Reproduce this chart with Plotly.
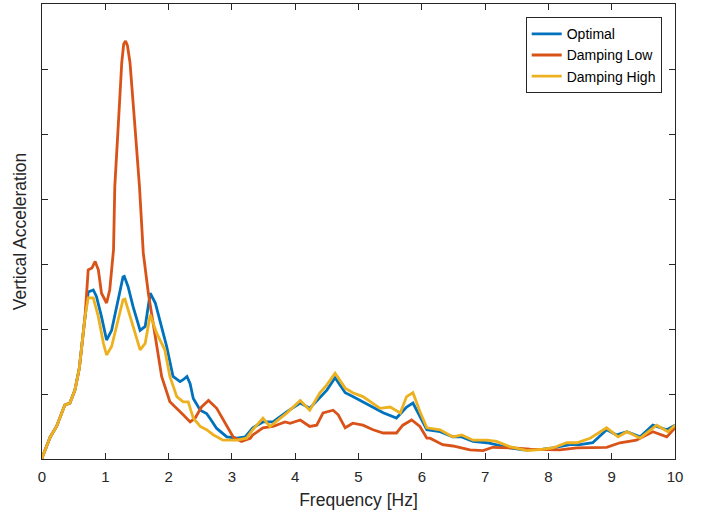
import plotly.graph_objects as go

# Shared low-frequency rise (all three series coincide here)
f_common = [0.00, 0.01, 0.13, 0.23, 0.36, 0.44, 0.52, 0.59, 0.68]
v_common = [0.00, 0.04, 0.34, 0.50, 0.83, 0.86, 1.06, 1.40, 2.19]

# Optimal
f_opt = f_common + [0.73, 0.81, 0.86, 0.94, 1.02, 1.10, 1.21, 1.28, 1.30, 1.36, 1.44, 1.55, 1.63, 1.71,
                    1.79, 1.86, 1.97, 2.07, 2.18, 2.23, 2.29, 2.34, 2.39, 2.50, 2.60, 2.65, 2.76, 2.92,
                    3.08, 3.21, 3.33, 3.49, 3.65, 3.87, 4.08, 4.23, 4.39, 4.50, 4.63, 4.79, 4.91, 5.07,
                    5.23, 5.39, 5.60, 5.76, 5.86, 5.97, 6.08, 6.29, 6.49, 6.63, 6.81, 7.03, 7.18, 7.39,
                    7.60, 7.91, 8.07, 8.34, 8.50, 8.70, 8.92, 9.08, 9.24, 9.45, 9.65, 9.87, 10.00]
v_opt = v_common + [2.57, 2.60, 2.50, 2.19, 1.83, 1.98, 2.50, 2.80, 2.81, 2.65, 2.34, 1.98, 2.04, 2.55,
                    2.40, 2.14, 1.73, 1.27, 1.19, 1.22, 1.27, 1.16, 0.93, 0.75, 0.70, 0.63, 0.47, 0.34,
                    0.32, 0.34, 0.48, 0.57, 0.57, 0.73, 0.86, 0.78, 0.94, 1.06, 1.25, 1.02, 0.96, 0.88,
                    0.80, 0.71, 0.63, 0.80, 0.86, 0.65, 0.45, 0.42, 0.34, 0.34, 0.27, 0.25, 0.22, 0.17,
                    0.14, 0.15, 0.17, 0.22, 0.22, 0.25, 0.45, 0.37, 0.42, 0.34, 0.52, 0.45, 0.52]

# Damping Low
f_low = f_common + [0.73, 0.79, 0.84, 0.89, 0.94, 1.02, 1.07, 1.13, 1.15, 1.21, 1.26, 1.29, 1.32, 1.35,
                    1.39, 1.46, 1.54, 1.60, 1.68, 1.79, 1.89, 2.02, 2.13, 2.23, 2.34, 2.42, 2.52, 2.63,
                    2.76, 2.89, 3.02, 3.15, 3.29, 3.33, 3.49, 3.65, 3.84, 3.92, 4.08, 4.23, 4.34, 4.44,
                    4.60, 4.68, 4.79, 4.91, 5.07, 5.23, 5.39, 5.60, 5.70, 5.84, 5.97, 6.08, 6.13, 6.33,
                    6.49, 6.76, 6.97, 7.12, 7.44, 7.71, 7.97, 8.18, 8.45, 8.70, 8.92, 9.13, 9.39, 9.65,
                    9.87, 10.00]
v_low = v_common + [2.91, 2.94, 3.04, 2.91, 2.55, 2.40, 2.60, 3.22, 4.19, 5.22, 6.10, 6.38, 6.43, 6.36,
                    6.10, 5.22, 4.19, 3.17, 2.55, 1.88, 1.27, 0.88, 0.78, 0.68, 0.57, 0.63, 0.80, 0.90,
                    0.78, 0.55, 0.34, 0.27, 0.32, 0.37, 0.48, 0.50, 0.57, 0.55, 0.60, 0.50, 0.52, 0.71,
                    0.75, 0.68, 0.48, 0.55, 0.52, 0.45, 0.40, 0.40, 0.52, 0.60, 0.50, 0.32, 0.32, 0.22,
                    0.20, 0.14, 0.13, 0.18, 0.17, 0.15, 0.14, 0.14, 0.17, 0.18, 0.18, 0.25, 0.29, 0.42,
                    0.34, 0.48]

# Damping High
f_high = f_common + [0.73, 0.81, 0.89, 0.97, 1.02, 1.10, 1.21, 1.28, 1.31, 1.39, 1.55, 1.63, 1.71, 1.81,
                     1.94, 2.02, 2.13, 2.23, 2.31, 2.39, 2.50, 2.60, 2.71, 2.86, 3.08, 3.23, 3.33, 3.49,
                     3.60, 3.87, 4.08, 4.23, 4.39, 4.50, 4.63, 4.79, 4.91, 5.07, 5.23, 5.34, 5.50, 5.66,
                     5.76, 5.86, 5.97, 6.08, 6.29, 6.49, 6.63, 6.81, 7.03, 7.18, 7.39, 7.66, 7.91, 8.07,
                     8.29, 8.45, 8.66, 8.92, 9.10, 9.24, 9.45, 9.71, 9.89, 10.00]
v_high = v_common + [2.48, 2.48, 2.19, 1.78, 1.60, 1.73, 2.19, 2.45, 2.46, 2.19, 1.68, 1.78, 2.22, 1.94,
                     1.68, 1.27, 0.96, 0.88, 0.88, 0.63, 0.50, 0.45, 0.37, 0.29, 0.29, 0.32, 0.45, 0.63,
                     0.50, 0.71, 0.90, 0.75, 1.02, 1.14, 1.32, 1.09, 1.02, 0.96, 0.86, 0.78, 0.80, 0.71,
                     0.96, 1.02, 0.73, 0.48, 0.45, 0.34, 0.37, 0.29, 0.29, 0.27, 0.19, 0.13, 0.15, 0.17,
                     0.25, 0.25, 0.32, 0.48, 0.34, 0.42, 0.32, 0.52, 0.42, 0.52]

names = ["Optimal", "Damping Low", "Damping High"]
colors = ["#0072BD", "#D95319", "#EDB120"]
x_ticks = [0, 1, 2, 3, 4, 5, 6, 7, 8, 9, 10]
x_tick_labels = ["0", "1", "2", "3", "4", "5", "6", "7", "8", "9", "10"]
y_ticks = [0, 1, 2, 3, 4, 5, 6, 7]

AX = "#262626"
FONT = "Liberation Sans, Arial, Helvetica, sans-serif"

fig = go.Figure()
for fx, vy, nm, c in zip([f_opt, f_low, f_high], [v_opt, v_low, v_high], names, colors):
    fig.add_trace(go.Scatter(x=fx, y=vy, mode="lines", name=nm,
                             line=dict(color=c, width=2.8)))

fig.update_layout(
    width=710, height=514,
    margin=dict(l=42, r=35, t=4, b=55),
    paper_bgcolor="white", plot_bgcolor="white",
    font=dict(family=FONT, color=AX, size=13),
    showlegend=True,
    legend=dict(x=0.979, y=0.971, xanchor="right", yanchor="top",
                bgcolor="white", bordercolor=AX, borderwidth=1,
                font=dict(size=14, color="black"), tracegroupgap=0),
)
fig.update_xaxes(range=[0, 10], tickvals=x_ticks, ticktext=x_tick_labels,
                 ticks="inside", ticklen=6, tickwidth=1, tickcolor=AX,
                 showline=True, linecolor=AX, linewidth=1, mirror="ticks",
                 showgrid=False, zeroline=False, ticklabelstandoff=4,
                 tickfont=dict(size=15, color=AX),
                 title=dict(text="Frequency [Hz]", font=dict(size=17.5, color=AX), standoff=9))
fig.update_yaxes(range=[0, 7], tickvals=y_ticks, showticklabels=False,
                 ticks="inside", ticklen=6, tickwidth=1, tickcolor=AX,
                 showline=True, linecolor=AX, linewidth=1, mirror="ticks",
                 showgrid=False, zeroline=False,
                 title=dict(text="Vertical Acceleration", font=dict(size=17.5, color=AX), standoff=9))

fig.write_html("out.html")
